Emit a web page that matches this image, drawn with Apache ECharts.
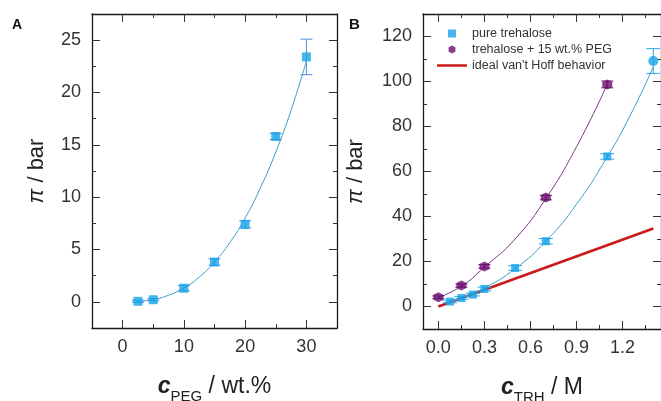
<!DOCTYPE html>
<html>
<head>
<meta charset="utf-8">
<script src="https://cdn.jsdelivr.net/npm/echarts@6/dist/echarts.min.js"></script>
<style>
html,body{margin:0;padding:0;background:#fff;}
#c{width:661px;height:401px;}
</style>
</head>
<body>
<div id="c"></div>
<script>
// ---------- Panel A data ----------
const A_x = [2.5, 5, 10, 15, 20, 25, 30];
const A_y = [0.05, 0.2, 1.3, 3.8, 7.4, 15.8, 23.4];
const A_err = [0.1, 0.1, 0.25, 0.3, 0.35, 0.3, 1.7];
const A_fitX = [2.5, 5, 7.5, 10, 12.5, 15, 17.5, 20, 22.5, 25, 27.5, 30];
const A_fitY = [0.04, 0.22, 0.63, 1.32, 2.36, 3.8, 5.66, 8.0, 10.9, 14.3, 18.3, 23.0];
const A_xMajor = [0, 10, 20, 30];
const A_xMinor = [5, 15, 25];
const A_yMajor = [0, 5, 10, 15, 20, 25];
const A_yMinor = [2.5, 7.5, 12.5, 17.5, 22.5];

// ---------- Panel B data ----------
const B_pureX = [0.075, 0.15, 0.225, 0.3, 0.5, 0.7, 1.1, 1.4];
const B_pureY = [2.2, 3.8, 5.3, 7.8, 17.1, 29.0, 66.7, 109.1];
const B_pureErr = [0.6, 0.6, 0.6, 0.8, 1.0, 1.2, 1.2, 5.5];
const B_pureFitX = [0.075, 0.15, 0.3, 0.5, 0.7, 0.9, 1.1, 1.25, 1.4];
const B_pureFitY = [2.0, 3.9, 8.2, 16.8, 29.0, 45.5, 66.5, 85.0, 106.5];
const B_pegX = [0.0, 0.15, 0.3, 0.7, 1.1];
const B_pegY = [4.1, 9.3, 17.8, 48.4, 98.7];
const B_pegErr = [0.6, 0.7, 0.8, 1.0, 1.5];
const B_pegFitX = [0.0, 0.15, 0.3, 0.5, 0.7, 0.9, 1.1];
const B_pegFitY = [4.0, 9.0, 17.5, 30.0, 48.0, 71.0, 98.7];
const B_idealX = [0.0, 1.4];
const B_idealY = [0.0, 34.7];
const B_xMajor = [0.0, 0.3, 0.6, 0.9, 1.2];
const B_xMinor = [0.15, 0.45, 0.75, 1.05, 1.35];
const B_yMajor = [0, 20, 40, 60, 80, 100, 120];
const B_yMinor = [10, 30, 50, 70, 90, 110];

const legendNames = ['pure trehalose', 'trehalose + 15 wt.% PEG', "ideal van't Hoff behavior"];

const FONT = 'Liberation Sans, Arial, sans-serif';
const zip = (a, b) => a.map((v, i) => [v, b[i]]);

function axisSet(dim, grid, min, max, majors, minors, fmt, name, nameGap, tsize) {
  const base = {
    type: 'value', gridIndex: grid, min: min, max: max,
    splitLine: {show: false},
    axisLine: {show: false, onZero: false},
    axisLabel: {show: false},
    axisTick: {show: false}
  };
  const pos = dim === 'x' ? ['bottom', 'top'] : ['left', 'right'];
  const line = {show: true, onZero: false, lineStyle: {color: '#1a1a1a', width: 1.3}};
  const majTick = {show: true, inside: true, length: 8, customValues: majors, lineStyle: {color: '#333', width: 1}};
  const minTick = {show: true, inside: true, length: 4, customValues: minors, lineStyle: {color: '#333', width: 1}};
  const main = Object.assign({}, base, {
    position: pos[0], axisLine: line, axisTick: majTick,
    axisLabel: {show: true, customValues: majors, formatter: fmt, fontSize: 18, color: '#333',
      fontFamily: FONT, margin: dim === 'x' ? 10 : 11},
    name: name, nameLocation: 'middle', nameGap: nameGap,
    nameRotate: dim === 'y' ? 90 : 0,
    nameTextStyle: {
      fontFamily: FONT, color: '#222',
      rich: {
        c: {fontSize: tsize, fontStyle: 'italic', fontWeight: 'bold', fontFamily: FONT, color: '#222'},
        p: {fontSize: tsize, fontStyle: 'italic', fontFamily: FONT, color: '#222'},
        sub: {fontSize: 15, fontFamily: FONT, color: '#222', padding: [20, 0, 0, 0]},
        n: {fontSize: tsize, fontFamily: FONT, color: '#222'}
      }
    }
  });
  return [
    main,
    Object.assign({}, base, {position: pos[0], axisTick: minTick}),
    Object.assign({}, base, {position: pos[1], axisLine: line, axisTick: majTick}),
    Object.assign({}, base, {position: pos[1], axisTick: minTick})
  ];
}

const xAxes = [].concat(
  axisSet('x', 0, -5, 35, A_xMajor, A_xMinor, v => String(v), '{c|c}{sub|PEG}{n| / wt.%}', 41, 23),
  axisSet('x', 1, -0.1, 1.45, B_xMajor, B_xMinor, v => Number(v).toFixed(1), '{c|c}{sub|TRH}{n| / M}', 41, 23)
);
const yAxes = [].concat(
  axisSet('y', 0, -2.5, 27.5, A_yMajor, A_yMinor, v => String(v), '{p|π}{n| / bar}', 44, 22),
  axisSet('y', 1, -10, 130, B_yMajor, B_yMinor, v => String(v), '{p|π}{n| / bar}', 56, 22)
);

function errSeries(xs, ys, es, axIdx, color, capHalf) {
  return {
    type: 'custom', coordinateSystem: 'cartesian2d',
    xAxisIndex: axIdx, yAxisIndex: axIdx, z: 3, silent: true,
    data: xs.map((x, i) => [x, ys[i], ys[i] - es[i], ys[i] + es[i]]),
    encode: {x: 0, y: [1, 2, 3]},
    renderItem: function (params, api) {
      const x = api.value(0);
      const lo = api.coord([x, api.value(2)]);
      const hi = api.coord([x, api.value(3)]);
      const st = {stroke: color, lineWidth: 1};
      return {type: 'group', children: [
        {type: 'line', shape: {x1: lo[0], y1: lo[1], x2: hi[0], y2: hi[1]}, style: st},
        {type: 'line', shape: {x1: lo[0] - capHalf, y1: lo[1], x2: lo[0] + capHalf, y2: lo[1]}, style: st},
        {type: 'line', shape: {x1: hi[0] - capHalf, y1: hi[1], x2: hi[0] + capHalf, y2: hi[1]}, style: st}
      ]};
    }
  };
}

const BLUE = '#16a2ea';
const PURPLE = '#6a0b6e';
const RED = '#cc1a1a';
const HEX = 'path://M50,0L93.3,25L93.3,75L50,100L6.7,75L6.7,25Z';
const SQ = 'path://M0,0L10,0L10,10L0,10Z';
const BAR = 'path://M0,0L120,0L120,10L0,10Z';

const series = [
  // Panel A
  {type: 'line', name: 'fitA', xAxisIndex: 0, yAxisIndex: 0, data: zip(A_fitX, A_fitY),
    smooth: true, showSymbol: false, symbol: 'none', lineStyle: {color: '#3b9fcb', width: 1}, z: 2, silent: true},
  errSeries(A_x, A_y, A_err, 0, '#4a8fe0', 6),
  {type: 'scatter', name: 'dataA', xAxisIndex: 0, yAxisIndex: 0, data: zip(A_x, A_y),
    symbol: SQ, symbolSize: 9, itemStyle: {color: BLUE}, z: 4},
  // Panel B
  {type: 'line', name: legendNames[2], xAxisIndex: 4, yAxisIndex: 4, data: zip(B_idealX, B_idealY),
    showSymbol: false, symbol: 'none', lineStyle: {color: RED, width: 2.6}, itemStyle: {color: RED}, z: 2},
  {type: 'line', name: 'fitPure', xAxisIndex: 4, yAxisIndex: 4, data: zip(B_pureFitX, B_pureFitY),
    smooth: true, showSymbol: false, symbol: 'none', lineStyle: {color: '#3b9fcb', width: 1}, z: 2, silent: true},
  {type: 'line', name: 'fitPeg', xAxisIndex: 4, yAxisIndex: 4, data: zip(B_pegFitX, B_pegFitY),
    smooth: true, showSymbol: false, symbol: 'none', lineStyle: {color: '#7a3a80', width: 1}, z: 2, silent: true},
  errSeries(B_pureX, B_pureY, B_pureErr, 4, '#2aa8e8', 7),
  errSeries(B_pegX, B_pegY, B_pegErr, 4, PURPLE, 6),
  {type: 'scatter', name: legendNames[0], xAxisIndex: 4, yAxisIndex: 4,
    data: zip(B_pureX, B_pureY).map((v, i, arr) => i === arr.length - 1 ? {value: v, symbol: 'circle', symbolSize: 10} : {value: v}),
    symbol: SQ, symbolSize: 8, itemStyle: {color: BLUE}, z: 4},
  {type: 'scatter', name: legendNames[1], xAxisIndex: 4, yAxisIndex: 4, data: zip(B_pegX, B_pegY),
    symbol: HEX, symbolSize: 10, itemStyle: {color: PURPLE}, z: 4}
];

const option = {
  backgroundColor: '#fff',
  animation: false,
  grid: [
    {left: 92, top: 14, width: 245, height: 314, containLabel: false, outerBoundsMode: 'none'},
    {left: 423, top: 14, width: 238, height: 315, containLabel: false, outerBoundsMode: 'none'}
  ],
  xAxis: xAxes,
  yAxis: yAxes,
  legend: {
    data: [
      {name: legendNames[0], icon: SQ},
      {name: legendNames[1], icon: HEX},
      {name: legendNames[2], icon: BAR, itemStyle: {color: RED}}
    ],
    orient: 'vertical', left: 437, top: 27, padding: 0, itemWidth: 30, itemHeight: 8, itemGap: 3,
    selectedMode: false,
    textStyle: {fontFamily: FONT, fontSize: 12.5, color: '#333'}
  },
  graphic: [
    {type: 'text', left: 12, top: 18, style: {text: 'A', font: 'bold 14px ' + FONT, fill: '#111'}},
    {type: 'text', left: 349, top: 17, style: {text: 'B', font: 'bold 15px ' + FONT, fill: '#111'}}
  ],
  series: series
};

const chart = echarts.init(document.getElementById('c'), null, {renderer: 'canvas'});
chart.setOption(option);
</script>
</body>
</html>
